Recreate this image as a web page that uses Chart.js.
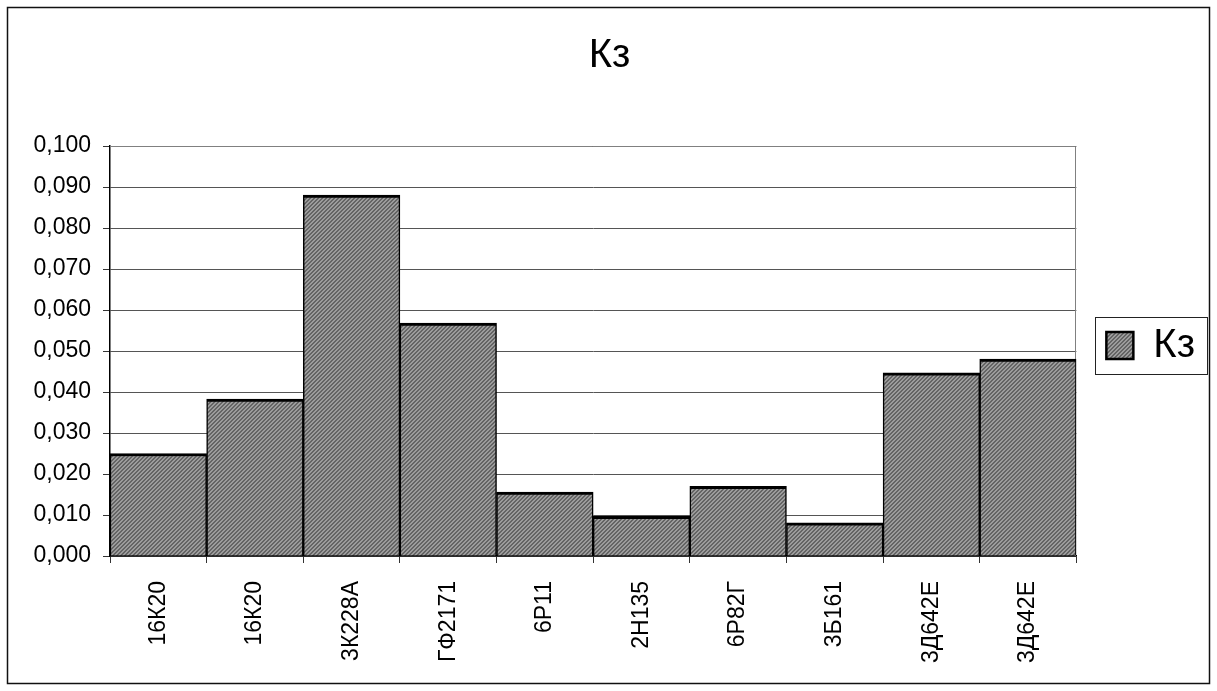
<!DOCTYPE html>
<html>
<head>
<meta charset="utf-8">
<script src="https://cdn.jsdelivr.net/npm/chart.js@4.4.1/dist/chart.umd.min.js"></script>
<style>
  html, body { margin: 0; padding: 0; background: #fff; }
  #wrap { width: 1217px; height: 691px; }
</style>
</head>
<body>
<div id="wrap"><canvas id="c" width="1217" height="691"></canvas></div>
<script>
// Machine models (category axis)
const categories = ['16К20', '16К20', '3К228А', 'ГФ2171', '6Р11', '2Н135', '6Р82Г', '3Б161', '3Д642Е', '3Д642Е'];
// Кз coefficient per machine
const kzValues = [0.025, 0.0383, 0.088, 0.0568, 0.0156, 0.0097, 0.017, 0.0081, 0.0447, 0.048];
const seriesName = 'Кз';
const chartTitle = 'Кз';
// Value axis range and step
const yMin = 0;
const yMax = 0.1;
const yStep = 0.01;

// Fine diagonal hatch used for the bar fill
function makeHatch() {
  const c = document.createElement('canvas');
  c.width = 4; c.height = 4;
  const g = c.getContext('2d');
  g.fillStyle = '#9c9c9c';
  g.fillRect(0, 0, 4, 4);
  g.fillStyle = '#646464';
  for (let i = 0; i < 4; i++) {
    g.fillRect((3 - i + 4) % 4, i, 1, 1);
    g.fillRect((4 - i + 4) % 4, i, 1, 1);
  }
  return g.createPattern(c, 'repeat');
}

const FONT = "'Liberation Sans', Arial, sans-serif";

// Outer frame, plot-area border and legend frame
const framesPlugin = {
  id: 'frames',
  beforeDraw(chart) {
    const ctx = chart.ctx;
    ctx.save();
    ctx.fillStyle = '#fff';
    ctx.fillRect(0, 0, chart.width, chart.height);
    ctx.restore();
  },
  beforeDatasetsDraw(chart) {
    const { ctx, chartArea: a } = chart;
    ctx.save();
    ctx.strokeStyle = '#808080';
    ctx.lineWidth = 1;
    ctx.beginPath();
    ctx.moveTo(a.left, Math.round(a.top) + 0.5);
    ctx.lineTo(Math.round(a.right) - 0.5, Math.round(a.top) + 0.5);
    ctx.lineTo(Math.round(a.right) - 0.5, a.bottom);
    ctx.stroke();
    ctx.restore();
  },
  afterDraw(chart) {
    const ctx = chart.ctx;
    ctx.save();
    ctx.strokeStyle = '#111';
    ctx.lineWidth = 1.5;
    ctx.strokeRect(7.5, 7.5, chart.width - 15, chart.height - 15);
    const hb = chart.legend && chart.legend.legendHitBoxes && chart.legend.legendHitBoxes[0];
    if (hb) {
      const cy = hb.top + hb.height / 2;
      const l = Math.round(hb.left - 11) + 0.5;
      const r = Math.round(hb.left + hb.width + 12) + 0.5;
      const t = Math.round(cy - 29) + 0.5;
      const b = Math.round(cy + 28) + 0.5;
      ctx.lineWidth = 1;
      ctx.strokeStyle = '#222';
      ctx.strokeRect(l, t, r - l, b - t);
    }
    ctx.restore();
  }
};

const ctx = document.getElementById('c').getContext('2d');
const hatch = makeHatch();

new Chart(ctx, {
  type: 'bar',
  data: {
    labels: categories,
    datasets: [{
      label: seriesName,
      data: kzValues,
      backgroundColor: hatch,
      borderColor: '#000',
      borderWidth: { top: 3, left: 1.5, right: 1.5, bottom: 0 },
      borderSkipped: false,
      barPercentage: 1,
      categoryPercentage: 1
    }]
  },
  options: {
    responsive: false,
    devicePixelRatio: 1,
    animation: false,
    layout: { padding: { left: 14, right: 12, top: 0, bottom: 0 } },
    plugins: {
      title: {
        display: true,
        text: chartTitle,
        color: '#000',
        font: { family: FONT, size: 40, weight: 'normal' },
        padding: { top: 32, bottom: 66 }
      },
      legend: {
        display: true,
        position: 'right',
        labels: {
          color: '#000',
          font: { family: FONT, size: 40 },
          boxWidth: 27,
          boxHeight: 27,
          padding: 30,
          generateLabels(chart) {
            const items = Chart.defaults.plugins.legend.labels.generateLabels(chart);
            items.forEach(it => { it.lineWidth = 2.5; it.strokeStyle = '#000'; });
            return items;
          }
        }
      },
      tooltip: { enabled: false }
    },
    scales: {
      x: {
        offset: true,
        grid: {
          offset: true,
          drawOnChartArea: false,
          drawTicks: true,
          tickLength: 7,
          color: '#333'
        },
        border: { color: '#000', width: 1.5 },
        ticks: {
          autoSkip: false,
          minRotation: 90,
          maxRotation: 90,
          padding: 18,
          color: '#000',
          font: { family: FONT, size: 23 }
        },
        afterFit(scale) { scale.height = 135; }
      },
      y: {
        min: yMin,
        max: yMax,
        grid: {
          color: '#555',
          lineWidth: 1,
          tickLength: 7,
          tickColor: '#333'
        },
        border: { color: '#000', width: 1.5 },
        ticks: {
          stepSize: yStep,
          padding: 12,
          color: '#000',
          font: { family: FONT, size: 23 },
          callback: v => Number(v).toFixed(3).replace('.', ',')
        },
        afterFit(scale) { scale.width = 96; }
      }
    }
  },
  plugins: [framesPlugin]
});
</script>
</body>
</html>
